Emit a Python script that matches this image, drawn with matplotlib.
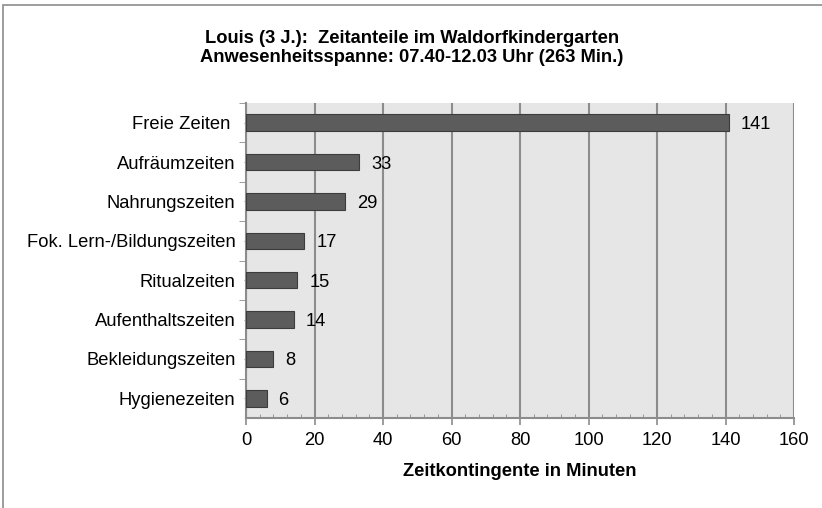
import matplotlib.pyplot as plt
from matplotlib.patches import Rectangle
from matplotlib.ticker import MultipleLocator, FixedLocator

plt.rcParams["font.family"] = ["Liberation Sans", "DejaVu Sans"]

categories = ["Freie Zeiten ", "Aufräumzeiten", "Nahrungszeiten",
              "Fok. Lern-/Bildungszeiten", "Ritualzeiten", "Aufenthaltszeiten",
              "Bekleidungszeiten", "Hygienezeiten"]
minutes = [141, 33, 29, 17, 15, 14, 8, 6]
title = ("Louis (3 J.):  Zeitanteile im Waldorfkindergarten\n"
         "Anwesenheitsspanne: 07.40-12.03 Uhr (263 Min.)")
xlabel = "Zeitkontingente in Minuten"

BAR, EDGE, BG, GRID = "#5c5c5c", "#3c3c3c", "#e6e6e6", "#8c8c8c"
FS = 13.2

fig = plt.figure(figsize=(8.22, 5.08), dpi=100)
fig.patches.append(Rectangle((3 / 822, -0.1), 1.1, 1 - 5 / 508 + 0.1,
                             transform=fig.transFigure, fill=False,
                             edgecolor="#8c8c8c", linewidth=1.2))
ax = fig.add_axes([246 / 822, 90 / 508, 548 / 822, 315 / 508])
ax.set_facecolor(BG)

ypos = list(range(len(categories)))
ax.barh(ypos, minutes, height=0.42, color=BAR, edgecolor=EDGE, linewidth=0.8,
        zorder=3)
for y, v in zip(ypos, minutes):
    ax.annotate(str(v), (v, y), xytext=(12, -2), textcoords="offset pixels",
                ha="left", va="center", fontsize=FS)

ax.set_xlim(0, 160)
ax.set_ylim(len(categories) - 0.5, -0.5)
ax.xaxis.set_major_locator(MultipleLocator(20))
ax.xaxis.set_minor_locator(MultipleLocator(4))
ax.grid(axis="x", which="major", color=GRID, linewidth=1.5, zorder=1)

ax.set_yticks(ypos, categories)
ax.yaxis.set_minor_locator(FixedLocator([y + 0.5 for y in ypos[:-1]] + [-0.5]))
ax.tick_params(axis="y", which="major", length=3, direction="inout",
               color=GRID, labelsize=FS, pad=6)
ax.tick_params(axis="y", which="minor", length=5, direction="out", color=GRID)
ax.tick_params(axis="x", which="major", length=5, direction="out", color=GRID,
               labelsize=FS, width=1.2, pad=5)
ax.tick_params(axis="x", which="minor", length=3, direction="in", color=GRID)

for side in ["top", "right"]:
    ax.spines[side].set_visible(False)
for side in ["left", "bottom"]:
    ax.spines[side].set_color(GRID)
    ax.spines[side].set_linewidth(1.5)

ax.set_xlabel(xlabel, fontsize=FS, fontweight="bold", labelpad=10)
fig.text(412 / 822, 1 - 48 / 508, title, ha="center", va="center",
         fontsize=FS, fontweight="bold", linespacing=1.2)

fig.savefig("out.png", dpi=100)
